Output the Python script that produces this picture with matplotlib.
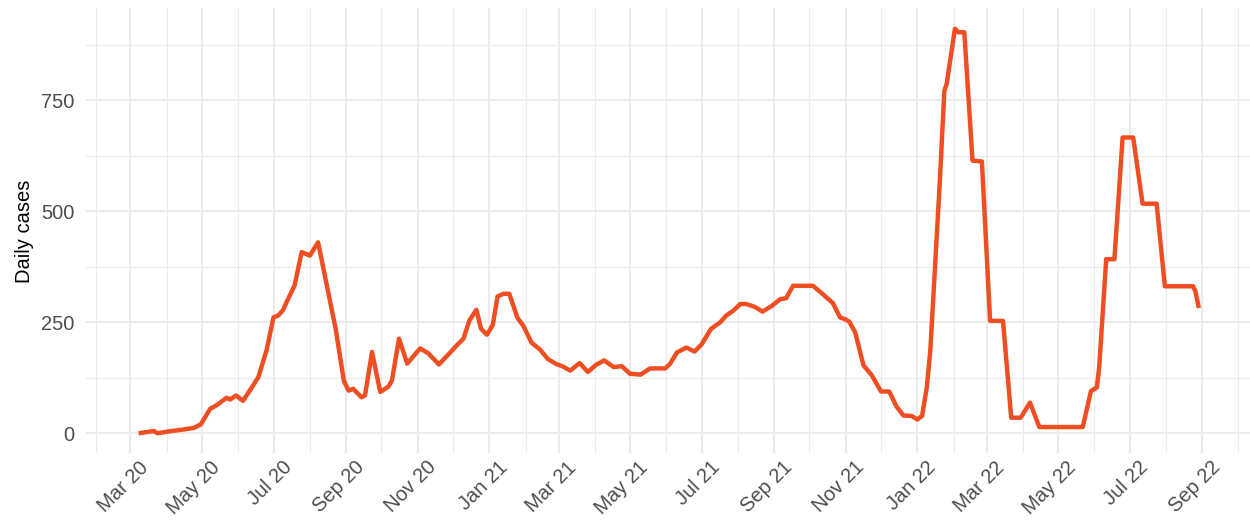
import matplotlib
matplotlib.use('Agg')
import matplotlib.pyplot as plt
import matplotlib.dates as mdate
import matplotlib.transforms as mtrans
import numpy as np
import pandas as pd

# daily cases (smoothed curve)
dates = [
    '2020-03-08', '2020-03-21', '2020-03-24', '2020-04-05', '2020-04-14', '2020-04-24',
    '2020-04-30', '2020-05-08', '2020-05-14', '2020-05-22', '2020-05-25', '2020-05-30',
    '2020-06-05', '2020-06-11', '2020-06-18', '2020-06-25', '2020-07-01', '2020-07-05',
    '2020-07-09', '2020-07-13', '2020-07-19', '2020-07-25', '2020-08-01', '2020-08-08',
    '2020-08-17', '2020-08-23', '2020-08-30', '2020-09-03', '2020-09-07', '2020-09-14',
    '2020-09-17', '2020-09-23', '2020-09-30', '2020-10-07', '2020-10-10', '2020-10-16',
    '2020-10-23', '2020-11-03', '2020-11-10', '2020-11-19', '2020-11-28', '2020-12-05',
    '2020-12-10', '2020-12-15', '2020-12-21', '2020-12-25', '2020-12-30', '2021-01-04',
    '2021-01-08', '2021-01-13', '2021-01-18', '2021-01-25', '2021-01-30', '2021-02-06',
    '2021-02-13', '2021-02-20', '2021-02-27', '2021-03-05', '2021-03-11', '2021-03-19',
    '2021-03-26', '2021-04-02', '2021-04-09', '2021-04-17', '2021-04-24', '2021-05-01',
    '2021-05-10', '2021-05-18', '2021-05-25', '2021-05-31', '2021-06-04', '2021-06-10',
    '2021-06-18', '2021-06-25', '2021-07-01', '2021-07-09', '2021-07-17', '2021-07-22',
    '2021-07-28', '2021-08-03', '2021-08-08', '2021-08-15', '2021-08-22', '2021-08-30',
    '2021-09-06', '2021-09-11', '2021-09-17', '2021-10-04', '2021-10-12', '2021-10-21',
    '2021-10-27', '2021-11-01', '2021-11-04', '2021-11-09', '2021-11-16', '2021-11-23',
    '2021-12-01', '2021-12-08', '2021-12-14', '2021-12-20', '2021-12-27', '2022-01-01',
    '2022-01-05', '2022-01-09', '2022-01-12', '2022-01-16', '2022-01-20', '2022-01-24',
    '2022-01-26', '2022-02-02', '2022-02-05', '2022-02-10', '2022-02-17', '2022-02-25',
    '2022-03-04', '2022-03-15', '2022-03-22', '2022-03-30', '2022-04-07', '2022-04-12',
    '2022-04-15', '2022-05-22', '2022-05-29', '2022-06-03', '2022-06-05', '2022-06-11',
    '2022-06-18', '2022-06-25', '2022-07-04', '2022-07-12', '2022-07-24', '2022-07-31',
    '2022-08-24', '2022-08-26', '2022-08-29',
]
cases = [
    0, 5, 0, 5, 8, 12,
    20, 55, 64, 80, 76, 85,
    73, 97, 126, 186, 261, 265,
    277, 300, 333, 408, 400, 430,
    313, 235, 118, 96, 100, 81,
    85, 183, 93, 105, 119, 213,
    157, 191, 180, 155, 180, 200,
    213, 254, 278, 235, 222, 244,
    308, 314, 314, 260, 242, 204,
    189, 167, 156, 150, 141, 158,
    138, 154, 164, 149, 151, 134,
    132, 146, 146, 146, 156, 182,
    193, 184, 200, 235, 250, 265,
    276, 291, 291, 285, 274, 287,
    302, 304, 332, 332, 314, 293,
    261, 256, 251, 227, 153, 131,
    94, 94, 61, 40, 39, 31,
    39, 103, 185, 373, 561, 771,
    787, 911, 903, 903, 614, 612,
    253, 253, 35, 35, 69, 35,
    14, 14, 95, 103, 148, 392,
    392, 666, 666, 517, 517, 331,
    331, 320, 282,
]

x = pd.to_datetime(dates)
y = np.array(cases)

plt.rcParams['font.family'] = ['Liberation Sans', 'DejaVu Sans']

fig = plt.figure(figsize=(12.5, 5.31), dpi=100)
ax = fig.add_axes([0.0685, 0.146, 0.933, 0.838])

ax.plot(x, y, color='#EF4E22', lw=3.2, solid_joinstyle='round', solid_capstyle='butt', zorder=3)

# ggplot-like expansion of 5%
span = x.max() - x.min()
ax.set_xlim(x.min() - span * 0.05, x.max() + span * 0.05)
yr = y.max() - y.min()
ax.set_ylim(y.min() - yr * 0.05, y.max() + yr * 0.05)

ax.xaxis.set_major_locator(mdate.MonthLocator(bymonth=[1, 3, 5, 7, 9, 11]))
ax.xaxis.set_minor_locator(mdate.MonthLocator(bymonth=[2, 4, 6, 8, 10, 12]))
ax.xaxis.set_major_formatter(mdate.DateFormatter('%b %y'))
ax.set_yticks([0, 250, 500, 750])
ax.set_yticks([125, 375, 625, 875], minor=True)

ax.grid(which='major', color='#EBEBEB', lw=1.5)
ax.grid(which='minor', color='#EBEBEB', lw=0.8)
ax.set_axisbelow(True)
for s in ax.spines.values():
    s.set_visible(False)

ax.tick_params(which='both', length=0)
ax.tick_params(axis='y', labelsize=14.5, labelcolor='#4D4D4D', pad=8)
ax.tick_params(axis='x', labelsize=14.5, labelcolor='#4D4D4D', pad=3)

ax.set_ylabel('Daily cases', fontsize=14.5, color='black', labelpad=5.5)

fig.canvas.draw()
shift = mtrans.ScaledTranslation(6 / 72, 0, fig.dpi_scale_trans)
for lab in ax.get_xticklabels():
    lab.set_rotation(45)
    lab.set_ha('right')
    lab.set_va('top')
    lab.set_rotation_mode('anchor')
    lab.set_transform(lab.get_transform() + shift)

fig.savefig('out.png', dpi=100)
